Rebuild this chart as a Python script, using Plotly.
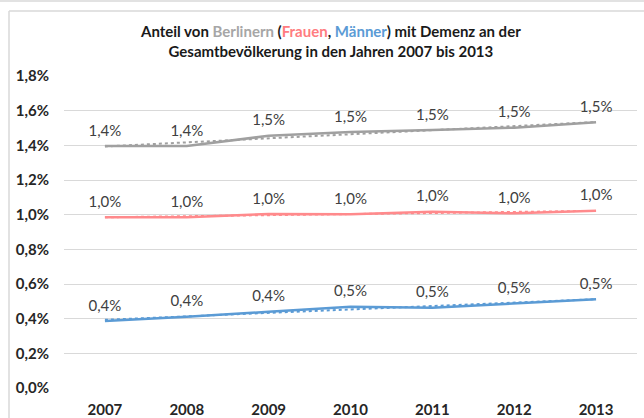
import numpy as np
import plotly.graph_objects as go

years = ["2007", "2008", "2009", "2010", "2011", "2012", "2013"]
berlin = [1.396, 1.396, 1.455, 1.477, 1.489, 1.502, 1.533]
frauen = [0.985, 0.985, 1.004, 1.002, 1.017, 1.008, 1.023]
maenner = [0.387, 0.411, 0.440, 0.469, 0.463, 0.489, 0.512]
y_ticks = [0.0, 0.2, 0.4, 0.6, 0.8, 1.0, 1.2, 1.4, 1.6, 1.8]

series = [
    ("Berliner", berlin, "#a0a0a0"),
    ("Frauen", frauen, "#ff8a8c"),
    ("Männer", maenner, "#5b9bd5"),
]

FONT = "Lato, sans-serif"
TXT = "#404040"


def fmt(v):
    return f"{v:.1f}".replace(".", ",") + "%"


fig = go.Figure()
idx = np.arange(len(years))
for name, vals, col in series:
    slope, icpt = np.polyfit(idx, vals, 1)
    trend = [float(slope * i + icpt) for i in idx]
    fig.add_trace(go.Scatter(x=years, y=trend, mode="lines",
                             line=dict(color=col, width=2, dash="dot"),
                             hoverinfo="skip", showlegend=False))
    fig.add_trace(go.Scatter(x=years, y=vals, mode="lines", name=name,
                             line=dict(color=col, width=2.5), showlegend=False))
    fig.add_trace(go.Scatter(x=years, y=vals, mode="markers+text",
                             marker=dict(size=9, opacity=0),
                             text=[fmt(v) for v in vals],
                             textposition="top center",
                             textfont=dict(family=FONT, size=15, color=TXT),
                             hoverinfo="skip", showlegend=False))

L, R, T, B = 64, 7, 76, 30
W, H = 644, 418
pw, ph = W - L - R, H - T - B

title = ("<b>Anteil von <span style='color:#a6a6a6'>Berlinern</span> "
         "(<span style='color:#ff7c80'>Frauen</span>, "
         "<span style='color:#5b9bd5'>Männer</span>) mit Demenz an der<br>"
         "Gesamtbevölkerung in den Jahren 2007 bis 2013</b>")
annotations = [dict(x=(330 - L) / pw, y=(H - B - 41) / ph, xref="paper", yref="paper",
                    text=title, showarrow=False, xanchor="center", yanchor="middle",
                    font=dict(family=FONT, size=15, color="#1a1a1a"))]

shapes = [
    dict(type="line", xref="paper", yref="paper",
         x0=(0 - L) / pw, x1=(W - L) / pw, y0=(H - B - 1) / ph, y1=(H - B - 1) / ph,
         line=dict(color="#d9d9d9", width=1.5)),
    dict(type="line", xref="paper", yref="paper",
         x0=(9 - L) / pw, x1=(W - L) / pw, y0=(H - B - 11) / ph, y1=(H - B - 11) / ph,
         line=dict(color="#d9d9d9", width=1.5)),
    dict(type="line", xref="paper", yref="paper",
         x0=(9 - L) / pw, x1=(9 - L) / pw, y0=(H - B - 11) / ph, y1=(H - B - H) / ph,
         line=dict(color="#d9d9d9", width=1.5)),
]

fig.update_layout(
    width=W, height=H,
    margin=dict(l=L, r=R, t=T, b=B, autoexpand=False),
    paper_bgcolor="white", plot_bgcolor="white",
    showlegend=False,
    annotations=annotations,
    shapes=shapes,
    xaxis=dict(type="category", range=[-0.5, 6.5], showgrid=False, zeroline=False,
               showline=False, ticks="", ticklabelstandoff=11, automargin=False,
               tickfont=dict(family=FONT, size=15, color="#262626", weight="bold")),
    yaxis=dict(range=[0, 1.8], tickvals=y_ticks, ticktext=[fmt(v) for v in y_ticks],
               showgrid=True, gridcolor="#d9d9d9", gridwidth=1, zeroline=False,
               showline=False, ticks="", ticklabelstandoff=14, automargin=False,
               tickfont=dict(family=FONT, size=15, color="#262626", weight="bold")),
)

fig.write_html("out.html")
